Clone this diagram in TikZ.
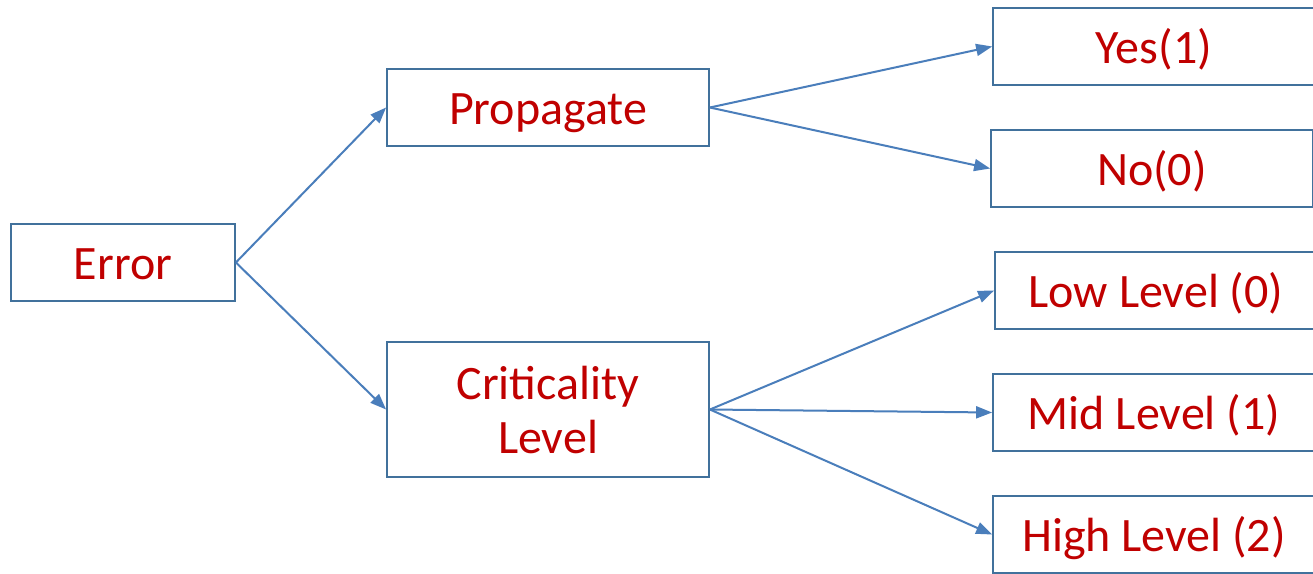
\documentclass[tikz,border=0pt]{standalone}
\usepackage{fontspec}
\setmainfont{Carlito}
\usetikzlibrary{arrows.meta}
\definecolor{boxline}{HTML}{41719C}
\definecolor{arrline}{HTML}{4A7EBB}
\definecolor{txtred}{HTML}{C00000}
\begin{document}
\begin{tikzpicture}[x=1pt,y=-1pt,
  box/.style={draw=boxline,line width=1.8pt,fill=white,text=txtred,
    font=\fontsize{48}{54}\selectfont,align=center,inner sep=0pt,
    minimum width=322pt,minimum height=77pt},
  oneline/.style={box,text height=38pt,text depth=5pt},
  conn/.style={draw=arrline,line width=2pt,-{Triangle[length=16pt,width=12pt]}}]
\clip (0,0) rectangle (1313,573);
\fill[white] (0,0) rectangle (1313,573);
\node[oneline,minimum width=224pt] (err) at (123,262.5) {Error};
\node[oneline] (prop) at (548,107.5) {Propagate};
\node[box,minimum height=135pt] (crit) at (548,409.5) {Criticality\\Level};
\node[oneline] (yes) at (1154,46.5) {Yes(1)};
\node[oneline] (no) at (1152,168.5) {No(0)};
\node[oneline] (low) at (1156,290.5) {Low Level (0)};
\node[oneline] (mid) at (1154,412.5) {Mid Level (1)};
\node[oneline] (high) at (1154,534.5) {High Level (2)};
\draw[conn] (err.east) -- (prop.west);
\draw[conn] (err.east) -- (crit.west);
\draw[conn] (prop.east) -- (yes.west);
\draw[conn] (prop.east) -- (no.west);
\draw[conn] (crit.east) -- (low.west);
\draw[conn] (crit.east) -- (mid.west);
\draw[conn] (crit.east) -- (high.west);
\end{tikzpicture}
\end{document}
